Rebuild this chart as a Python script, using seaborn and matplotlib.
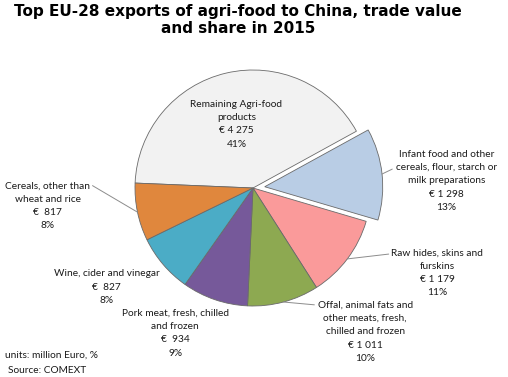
import numpy as np
import matplotlib
matplotlib.use("Agg")
import matplotlib.pyplot as plt
import seaborn as sns

sns.set_theme(style="white")
plt.rcParams['font.family'] = ['Lato', 'DejaVu Sans']

# ---------------------------------------------------------------
# data (million Euro, 2015, source COMEXT)
# ---------------------------------------------------------------
categories = [
    "Remaining Agri-food\nproducts",
    "Infant food and other\ncereals, flour, starch or\nmilk preparations",
    "Raw hides, skins and\nfurskins",
    "Offal, animal fats and\nother meats, fresh,\nchilled and frozen",
    "Pork meat, fresh, chilled\nand frozen",
    "Wine, cider and vinegar",
    "Cereals, other than\nwheat and rice",
]
values = [4275, 1298, 1179, 1011, 934, 827, 817]
colors = ["#F2F2F2", "#B9CDE5", "#FA9A9A", "#8DA951", "#76599A", "#4BACC6", "#E0873D"]
explode = [0, 0.1, 0, 0, 0, 0, 0]

# label layout (data units, pie radius = 1)
label_pos = [(-0.14, 0.54), (1.64, 0.06), (1.56, -0.72), (0.95, -1.22),
             (-0.66, -1.23), (-1.24, -0.84), (-1.74, -0.15)]
leader_end = [None, (1.18, 0.16), (1.15, -0.56), (0.52, -0.99),
              None, None, (-1.36, 0.02)]

total = sum(values)

def euro(v):
    if v >= 1000:
        return "€ " + f"{v:,}".replace(",", " ")
    return "€  " + str(v)

fig = plt.figure(figsize=(5.08, 3.77), dpi=100)
ax = fig.add_axes([0, 0, 1, 1])

wedges, _ = ax.pie(values, colors=colors, explode=explode, startangle=177.6,
                   counterclock=False, radius=1,
                   wedgeprops=dict(edgecolor="#6a6a6a", linewidth=0.6))

# keep the pie where it sits in the original (center 253,188 px, radius 118 px)
unit = 118.0
ax.set_xlim(-253 / unit, (508 - 253) / unit)
ax.set_ylim(-(377 - 188) / unit, 188 / unit)
ax.set_aspect("auto")
ax.axis("off")

for i, (w, cat, v) in enumerate(zip(wedges, categories, values)):
    pct = round(v / total * 100)
    txt = f"{cat}\n{euro(v)}\n{pct}%"
    lx, ly = label_pos[i]
    ax.text(lx, ly, txt, ha="center", va="center", fontsize=7.3,
            color="#1a1a1a", linespacing=1.62)
    if leader_end[i] is not None:
        mid = np.deg2rad((w.theta1 + w.theta2) / 2)
        r = w.r
        cx, cy = w.center
        ex, ey = cx + r * np.cos(mid), cy + r * np.sin(mid)
        ax.plot([ex, leader_end[i][0]], [ey, leader_end[i][1]],
                color="#8c8c8c", lw=0.7)

fig.text(0.469, 0.99, "Top EU-28 exports of agri-food to China, trade value\nand share in 2015",
         ha="center", va="top", fontsize=11, fontweight="bold", color="black",
         family="DejaVu Sans", linespacing=1.15)

fig.text(0.01, 0.058, "units: million Euro, %", fontsize=7.3, va="center", color="#1a1a1a")
fig.text(0.015, 0.018, "Source: COMEXT", fontsize=7.3, va="center", color="#1a1a1a")

fig.savefig("out.png", dpi=100)
